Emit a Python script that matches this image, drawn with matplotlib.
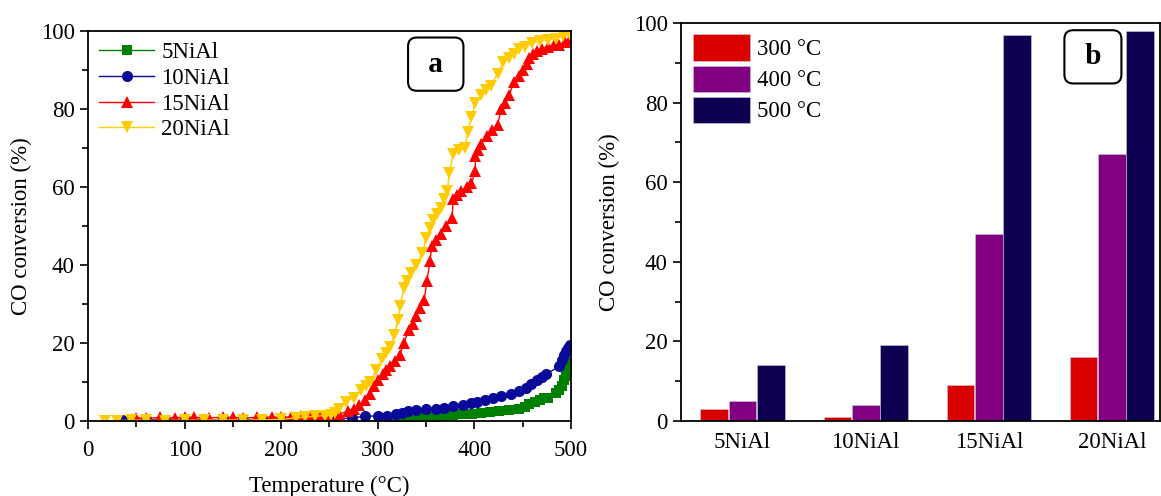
import numpy as np
import matplotlib
matplotlib.use("Agg")
import matplotlib.pyplot as plt
from matplotlib.ticker import MultipleLocator

plt.rcParams['font.family'] = ['Liberation Serif', 'DejaVu Serif']
plt.rcParams['mathtext.fontset'] = 'stix'

# ---- panel a: light-off curves ----
t_5 = [315, 322, 331, 340, 350, 360, 369, 378, 388, 398, 407, 416, 426, 436, 446, 452,
       457, 463, 468, 472, 476, 485, 488, 491, 493, 495, 497, 499]
co_5 = [0.0, 0.2, 0.4, 0.6, 0.9, 1.1, 1.3, 1.5, 1.7, 1.9, 2.1, 2.3, 2.6, 2.8, 3.0, 3.6,
        4.3, 4.9, 5.5, 5.8, 6.0, 7.2, 8.0, 9.0, 10.5, 11.5, 13.5, 15.0]

t_10 = [35, 45, 60, 80, 100, 120, 140, 160, 180, 200, 220, 240, 255, 273, 287, 300, 310,
        319, 325, 331, 340, 350, 360, 369, 378, 388, 396, 403, 411, 419, 428, 438, 446,
        453, 459, 465, 470, 474, 488, 491, 493, 495, 497, 499]
co_10 = [0.3, 0.4, 0.4, 0.3, 0.4, 0.3, 0.4, 0.3, 0.4, 0.4, 0.3, 0.4, 0.5, 0.8, 1.2, 1.3, 1.3,
         1.7, 2.1, 2.5, 2.7, 3.0, 3.2, 3.4, 3.8, 4.2, 4.6, 5.0, 5.5, 6.0, 6.4, 6.8, 7.6,
         8.5, 9.6, 10.6, 11.3, 12.0, 14.0, 15.7, 16.8, 17.9, 18.7, 19.6]

t_15 = [50, 60, 75, 90, 100, 110, 125, 140, 150, 160, 175, 190, 200, 210, 220, 230, 240,
        250, 260, 269, 275, 281, 287, 292, 296, 300, 305, 309, 313, 318, 323, 327, 332,
        336, 340, 344, 348, 351, 354, 356, 360, 365, 371, 377, 378, 382, 386, 392, 397,
        401, 401, 404, 407, 413, 418, 424, 428, 432, 436, 441, 446, 450, 454, 457, 461,
        465, 470, 476, 482, 488, 494, 499]
co_15 = [0.8, 0.7, 0.9, 0.8, 1.0, 0.9, 0.8, 1.0, 0.9, 0.8, 0.9, 1.0, 0.9, 1.1, 1.2, 1.3, 1.2,
         1.0, 1.8, 2.5, 3.2, 4.0, 5.5, 7.0, 9.0, 10.6, 12.0, 13.0, 14.0, 15.5, 17.0, 20.0, 23.4,
         25.0, 27.0, 29.0, 31.0, 36.0, 41.0, 45.0, 46.5, 48.0, 50.0, 52.0, 57.0, 58.0, 59.0, 60.0, 61.0,
         64.0, 68.0, 69.5, 71.0, 73.0, 74.5, 76.0, 80.0, 81.5, 83.5, 87.0, 88.5, 90.0, 91.5, 93.0, 94.0,
         95.0, 95.5, 96.0, 96.3, 96.5, 97.2, 98.0]

t_20 = [18, 30, 45, 60, 80, 100, 120, 140, 160, 180, 200, 215, 225, 235, 245, 252, 256,
        260, 267, 275, 283, 288, 292, 298, 304, 309, 313, 317, 321, 323, 327, 330, 334,
        340, 346, 350, 354, 357, 361, 365, 369, 372, 374, 378, 384, 390, 393, 397, 401,
        407, 412, 417, 424, 430, 436, 441, 446, 452, 460, 468, 476, 484, 492, 499]
co_20 = [0.1, 0.1, 0.2, 0.2, 0.1, 0.2, 0.2, 0.3, 0.2, 0.3, 0.4, 0.8, 1.0, 1.2, 1.4, 1.6, 2.0,
         3.0, 5.0, 6.0, 8.0, 9.0, 10.0, 13.0, 16.0, 17.5, 19.0, 22.0, 26.0, 29.5, 34.0, 36.0, 38.0,
         40.0, 43.0, 47.0, 49.5, 51.5, 53.0, 54.5, 57.0, 59.0, 63.5, 68.5, 69.5, 70.0, 74.0, 78.0, 81.5,
         83.5, 85.0, 86.0, 89.0, 92.0, 93.0, 94.0, 95.5, 96.0, 97.0, 97.5, 97.8, 98.0, 98.7, 99.0]

series_names = ['5NiAl', '10NiAl', '15NiAl', '20NiAl']

# ---- panel b: conversion at fixed temperatures ----
catalysts = ['5NiAl', '10NiAl', '15NiAl', '20NiAl']
conv_300 = [3, 1, 9, 16]
conv_400 = [5, 4, 47, 67]
conv_500 = [14, 19, 97, 98]
temp_labels = ['300 °C', '400 °C', '500 °C']

fig = plt.figure(figsize=(11.61, 4.96), dpi=100)
ax1 = fig.add_axes([0.0758, 0.1512, 0.416, 0.7863])
ax2 = fig.add_axes([0.5866, 0.1512, 0.4125, 0.8024])

FS = 16.5

# panel a
styles = [('#008000', 's', 7), ('#0A0A9A', 'o', 8), ('#FF0000', '^', 9), ('#FFCC00', 'v', 9)]
for (t, c), name, (col, mk, ms) in zip([(t_5, co_5), (t_10, co_10), (t_15, co_15), (t_20, co_20)],
                                       series_names, styles):
    ax1.plot(t, c, color=col, marker=mk, markersize=ms, lw=1, label=name,
             markeredgewidth=0, clip_on=True)

ax1.set_xlim(0, 500)
ax1.set_ylim(0, 100)
ax1.xaxis.set_major_locator(MultipleLocator(100))
ax1.xaxis.set_minor_locator(MultipleLocator(50))
ax1.yaxis.set_major_locator(MultipleLocator(20))
ax1.yaxis.set_minor_locator(MultipleLocator(10))
ax1.tick_params(which='both', direction='out', labelsize=FS, width=1.2)
ax1.tick_params(which='major', length=6)
ax1.tick_params(which='minor', length=4)
ax1.tick_params(axis='x', pad=8)
ax1.set_xlabel('Temperature (°C)', fontsize=FS, labelpad=10)
ax1.set_ylabel('CO conversion (%)', fontsize=FS, labelpad=6)
for s in ax1.spines.values():
    s.set_linewidth(1.3)
ax1.legend(loc='upper left', frameon=False, fontsize=FS, handlelength=2.4,
           handletextpad=0.3, labelspacing=0.2, borderaxespad=0.1)
ax1.text(0.72, 0.915, ' a ', transform=ax1.transAxes, fontsize=21, fontweight='bold',
         ha='center', va='center',
         bbox=dict(boxstyle='round,pad=0.45,rounding_size=0.3', fc='white', ec='black', lw=1.5))

# panel b
x = np.arange(len(catalysts))
w = 0.225
cols = ['#D90000', '#800080', '#0D0050']
for i, (vals, lab) in enumerate(zip([conv_300, conv_400, conv_500], temp_labels)):
    ax2.bar(x + (i - 1) * (w + 0.005), vals, width=w, color=cols[i], label=lab,
            edgecolor='#c8c8e0', linewidth=0.4)

ax2.set_xlim(-0.5, 3.39)
ax2.set_ylim(0, 100)
ax2.set_xticks(x)
ax2.set_xticklabels(catalysts)
ax2.yaxis.set_major_locator(MultipleLocator(20))
ax2.yaxis.set_minor_locator(MultipleLocator(10))
ax2.tick_params(which='both', direction='out', labelsize=FS, width=1.2)
ax2.tick_params(axis='y', which='major', length=6)
ax2.tick_params(axis='y', which='minor', length=4)
ax2.tick_params(axis='x', length=0, pad=8)
ax2.set_ylabel('CO conversion (%)', fontsize=FS, labelpad=10)
for s in ax2.spines.values():
    s.set_linewidth(1.3)
ax2.legend(loc='upper left', frameon=False, fontsize=FS, handlelength=2.5, handleheight=1.4,
           handletextpad=0.3, labelspacing=0.2, borderaxespad=0.1)
ax2.text(0.86, 0.915, ' b ', transform=ax2.transAxes, fontsize=21, fontweight='bold',
         ha='center', va='center',
         bbox=dict(boxstyle='round,pad=0.45,rounding_size=0.3', fc='white', ec='black', lw=1.5))

plt.savefig('out.png', dpi=100)
plt.close()
